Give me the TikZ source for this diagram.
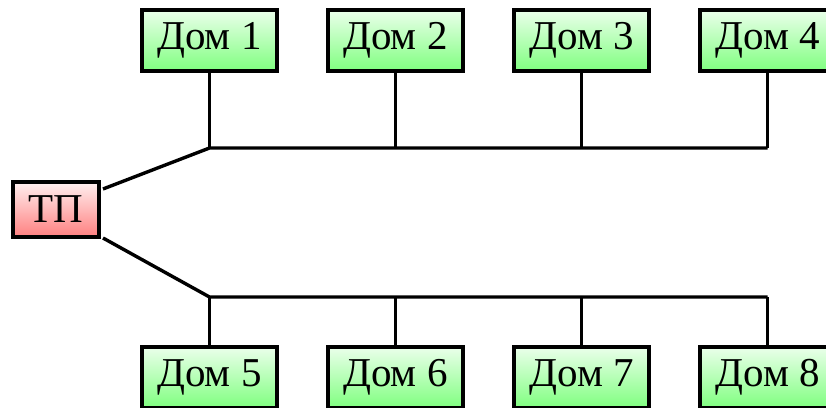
\documentclass[tikz,border=0pt]{standalone}
\usepackage{fontspec}
\setmainfont{Liberation Serif}
\begin{document}
\begin{tikzpicture}[x=1pt,y=-1pt,
  wire/.style={line width=3.4pt},
  house/.style={draw,line width=3.4pt,minimum width=135pt,minimum height=61pt,
    inner sep=0pt,top color=green!8,bottom color=green!50,
    font=\fontsize{41}{48}\selectfont},
  station/.style={draw,line width=3.4pt,minimum width=86pt,minimum height=55pt,
    inner sep=0pt,top color=red!6,bottom color=red!50,
    font=\fontsize{41}{48}\selectfont}]
\useasboundingbox (0,0) rectangle (826,407);
\clip (0,0) rectangle (826,407);
\fill[white] (0,0) rectangle (826,407);

% transformer station
\node[station] (tp) at (56,209.5) {ТП};

% houses above and below the two feeder lines
\foreach \i/\x in {1/209.5,2/395.5,3/581.5,4/767.5}{
  \node[house] (h\i) at (\x,40.5) {Дом \i};
}
\foreach \i/\x in {5/209.5,6/395.5,7/581.5,8/767.5}{
  \node[house] (h\i) at (\x,377.5) {Дом \i};
}

% feeder bends and line ends
\coordinate (tpu) at (103,189);
\coordinate (tpd) at (103,238);
\coordinate (bu) at (209.5,148);
\coordinate (bd) at (209.5,297);

% upper feeder
\draw[wire,line join=round] (tpu) -- (bu) -- (h4.south |- bu);
\foreach \i in {1,2,3,4}{
  \draw[wire] (h\i.south) -- (h\i.south |- bu);
}
% lower feeder
\draw[wire,line join=round] (tpd) -- (bd) -- (h8.north |- bd);
\foreach \i in {5,6,7,8}{
  \draw[wire] (h\i.north) -- (h\i.north |- bd);
}
\end{tikzpicture}
\end{document}
